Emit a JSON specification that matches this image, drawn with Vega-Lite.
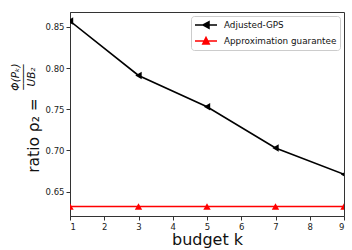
{
  "$schema": "https://vega.github.io/schema/vega-lite/v6.json",
  "autosize": {"type": "none"},
  "padding": {"left": 70, "top": 12, "right": 8, "bottom": 34},
  "width": 274,
  "height": 204,
  "background": "white",
  "title": {
    "text": ["Φ(Pₖ)", "────", "UB₂"],
    "orient": "left",
    "anchor": "middle",
    "fontSize": 10.5,
    "fontStyle": "italic",
    "fontWeight": "normal",
    "lineHeight": 8,
    "color": "#111",
    "offset": -11,
    "dx": 37
  },
  "config": {
    "font": "DejaVu Sans",
    "view": {"stroke": "#333", "strokeWidth": 1},
    "axis": {
      "grid": false,
      "domainColor": "#333",
      "tickColor": "#333",
      "labelColor": "#222",
      "labelFontSize": 8.5,
      "titleFontWeight": "normal",
      "titleColor": "#111",
      "titleFontSize": 16,
      "tickSize": 4
    }
  },
  "data": {
    "values": [
      {"series": "Adjusted-GPS", "k": 1, "ratio": 0.857},
      {"series": "Adjusted-GPS", "k": 3, "ratio": 0.791},
      {"series": "Adjusted-GPS", "k": 5, "ratio": 0.753},
      {"series": "Adjusted-GPS", "k": 7, "ratio": 0.703},
      {"series": "Adjusted-GPS", "k": 9, "ratio": 0.671},
      {"series": "Approximation guarantee", "k": 1, "ratio": 0.632},
      {"series": "Approximation guarantee", "k": 3, "ratio": 0.632},
      {"series": "Approximation guarantee", "k": 5, "ratio": 0.632},
      {"series": "Approximation guarantee", "k": 7, "ratio": 0.632},
      {"series": "Approximation guarantee", "k": 9, "ratio": 0.632}
    ]
  },
  "encoding": {
    "x": {
      "field": "k", "type": "quantitative",
      "scale": {"domain": [1, 9], "nice": false, "zero": false},
      "axis": {"values": [1, 2, 3, 4, 5, 6, 7, 8, 9], "format": "d", "title": "budget k", "titlePadding": 1}
    },
    "y": {
      "field": "ratio", "type": "quantitative",
      "scale": {"domain": [0.6205, 0.868], "nice": false, "zero": false},
      "axis": {"values": [0.65, 0.7, 0.75, 0.8, 0.85], "format": ".2f", "title": "ratio ρ₂ =", "titleFontSize": 15.5, "titlePadding": 4, "titleY": 123}
    },
    "color": {
      "field": "series", "type": "nominal",
      "scale": {"domain": ["Adjusted-GPS", "Approximation guarantee"], "range": ["black", "red"]},
      "legend": {
        "title": null,
        "orient": "top-right",
        "offset": 4,
        "padding": 3,
        "rowPadding": 2,
        "strokeColor": "#ccc",
        "fillColor": "white",
        "cornerRadius": 3,
        "labelFontSize": 8.8,
        "labelColor": "#111",
        "symbolSize": 100,
        "labelOffset": 18,
        "encode": {
          "symbols": {
            "update": {
              "shape": {"signal": "datum.value == 'Adjusted-GPS' ? 'M-1,0H3.4M0.6,0L1.8,-0.65L1.8,0.65Z' : 'M-1,0H3.4M0.55,0.6L1.2,-0.7L1.85,0.6Z'"},
              "fill": {"signal": "datum.value == 'Adjusted-GPS' ? 'black' : 'red'"},
              "stroke": {"signal": "datum.value == 'Adjusted-GPS' ? 'black' : 'red'"},
              "strokeWidth": {"value": 1.5},
              "opacity": {"value": 1}
            }
          }
        }
      }
    }
  },
  "layer": [
    {"mark": {"type": "line", "strokeWidth": 1.6, "clip": true}},
    {
      "transform": [{"filter": "datum.series == 'Adjusted-GPS'"}],
      "mark": {"type": "point", "filled": true, "opacity": 1, "size": 55, "shape": "triangle-left", "clip": true}
    },
    {
      "transform": [{"filter": "datum.series == 'Approximation guarantee'"}],
      "mark": {"type": "point", "filled": true, "opacity": 1, "size": 55, "shape": "triangle-up", "clip": true}
    }
  ]
}
